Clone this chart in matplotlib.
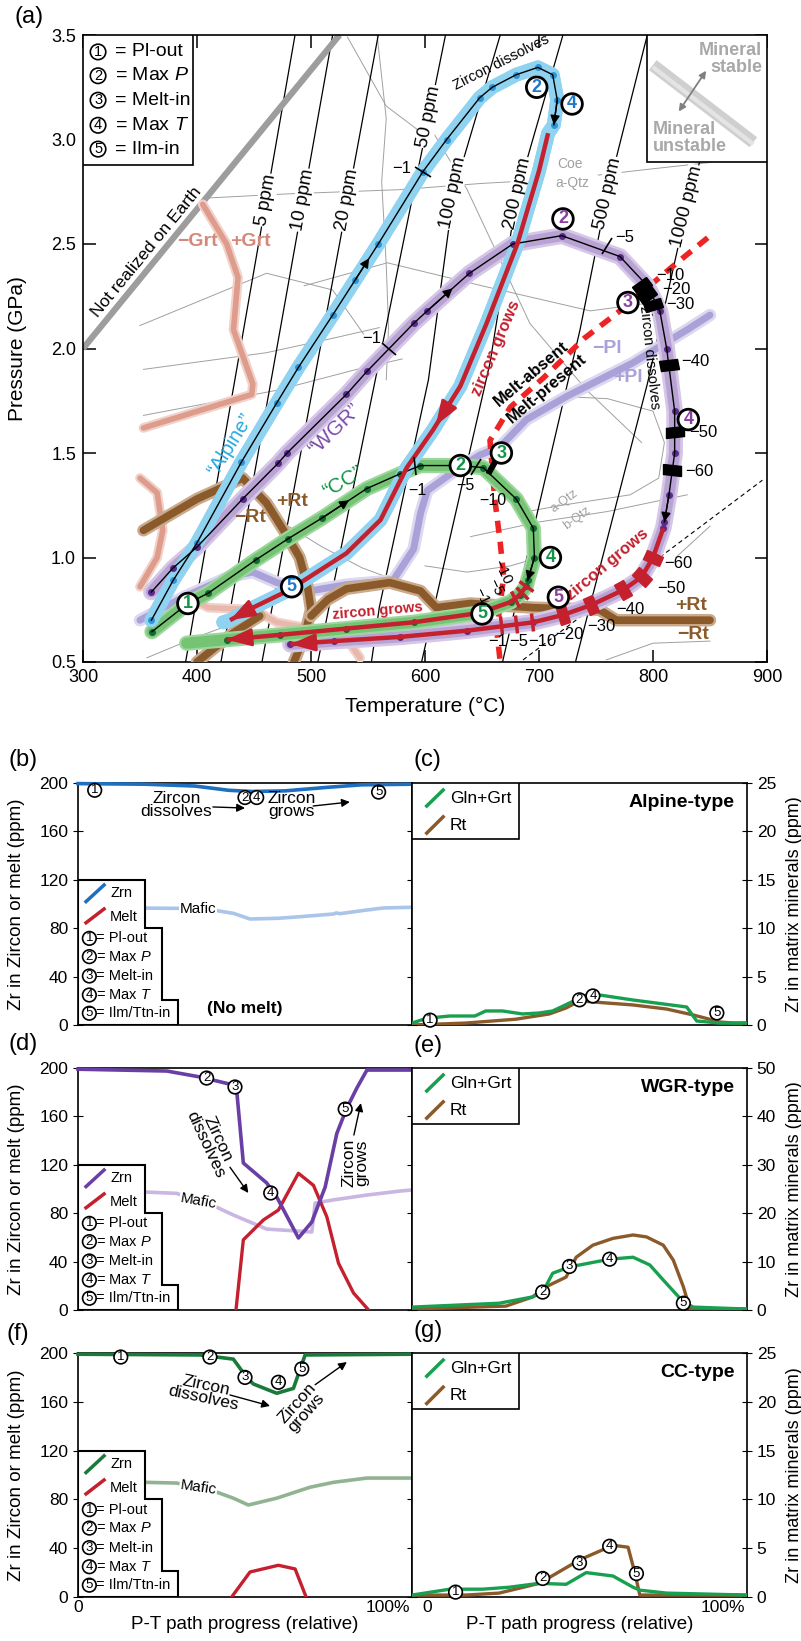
import numpy as np
import matplotlib.pyplot as plt
from matplotlib.markers import MarkerStyle
from matplotlib.transforms import Affine2D
from matplotlib.patches import Polygon, Rectangle
from matplotlib.ticker import FormatStrFormatter

plt.rcParams['font.family'] = ['Liberation Sans', 'DejaVu Sans']
plt.rcParams['mathtext.fontset'] = 'custom'
plt.rcParams['mathtext.rm'] = 'Liberation Sans'
plt.rcParams['mathtext.it'] = 'Liberation Sans:italic'
plt.rcParams['axes.linewidth'] = 1.2

RED = '#c4202e'
BLUE_BAND, BLUE_DOT, BLUE_TXT = '#8fd3f1', '#2f95d6', '#1f78c8'
PURP_BAND, PURP_DOT, PURP_TXT = '#b9a2d4', '#5a2a8a', '#8a3fa0'
GRN_BAND, GRN_DOT, GRN_TXT = '#74c474', '#0f6b32', '#13944a'
RT_COL, GRT_COL, PL_COL = '#8a5a2b', '#dd9c8c', '#a9a1d8'

# ---------------- (a) P-T diagram ----------------
# P-T paths (T in degC, P in GPa)
alpine_T = [360, 379, 400, 439, 470, 489, 519, 539, 559, 598, 619, 648, 659, 680, 699, 712, 716, 713]
alpine_P = [0.70, 0.89, 1.07, 1.457, 1.74, 1.91, 2.16, 2.33, 2.50, 2.845, 3.0, 3.2, 3.25, 3.31, 3.345, 3.31, 3.19, 3.07]
alpine_red_T = [708, 700, 681, 654, 631, 607, 584, 561, 531, 490, 483, 449, 429]
alpine_red_P = [3.03, 2.85, 2.50, 2.12, 1.82, 1.61, 1.43, 1.18, 1.02, 0.877, 0.85, 0.76, 0.70]
alpine_tail = ([423], [0.69])

wgr_T = [360, 379, 400, 440, 471, 479, 531, 549, 590, 602, 639, 677, 720, 771, 795, 806, 812, 819, 819, 814, 810]
wgr_P = [0.835, 0.95, 1.05, 1.28, 1.45, 1.50, 1.78, 1.89, 2.12, 2.18, 2.36, 2.50, 2.54, 2.44, 2.30, 2.18, 2.0, 1.70, 1.50, 1.30, 1.17]
wgr_red_T = [809, 800, 790, 774, 746, 721, 695, 637, 578, 520, 482]
wgr_red_P = [1.14, 1.0, 0.907, 0.845, 0.773, 0.725, 0.69, 0.65, 0.62, 0.60, 0.585]

cc_T = [360.5, 392, 410, 452, 480, 510, 549, 578, 596, 631, 651, 680, 695, 696, 690]
cc_P = [0.645, 0.78, 0.83, 0.99, 1.09, 1.19, 1.33, 1.40, 1.44, 1.44, 1.43, 1.28, 1.14, 1.0, 0.89]
cc_red_T = [689, 683, 675, 648, 590, 531, 473, 426]
cc_red_P = [0.865, 0.82, 0.787, 0.735, 0.69, 0.66, 0.63, 0.607]
cc_tail = ([391], [0.59])

# zircon saturation isopleths
iso_names = ['5 ppm', '10 ppm', '20 ppm', '50 ppm', '100 ppm', '200 ppm', '500 ppm', '1000 ppm']
iso_T = [[486, 390], [519, 421], [559, 457], [618, 506], [666, 625, 603, 560, 553],
         [721, 681, 657, 597], [795, 760, 736, 668], [872, 830, 795, 732]]
iso_P = [[3.5, 0.5], [3.5, 0.5], [3.5, 0.5], [3.5, 0.5], [3.5, 2.744, 1.85, 0.764, 0.5],
         [3.5, 2.744, 1.93, 0.5], [3.5, 2.744, 2.09, 0.5], [3.5, 2.68, 1.83, 0.5]]
iso_label_P = [2.71, 2.71, 2.71, 3.11, 2.744, 2.744, 2.744, 2.68]

# mineral-in/out boundaries
grt_a = ([405, 426, 436, 432, 449, 448, 353], [2.69, 2.50, 2.34, 2.09, 1.83, 1.78, 1.62])
grt_b = ([350, 365, 370, 365, 350], [1.38, 1.31, 1.13, 1.0, 0.86])
grt_c = ([395, 410, 450, 470, 500, 530, 543], [0.80, 0.76, 0.75, 0.69, 0.66, 0.62, 0.52])
rt_a = ([353, 400, 440, 461, 476, 490, 497, 500, 494, 485], [1.13, 1.28, 1.38, 1.26, 1.13, 1.0, 0.86, 0.75, 0.62, 0.5])
rt_b = ([500, 515, 531, 569, 596, 610, 640, 695, 753, 768, 850], [0.72, 0.80, 0.85, 0.88, 0.84, 0.76, 0.78, 0.76, 0.75, 0.70, 0.70])
rt_c = ([400, 432, 455], [0.5, 0.64, 0.72])
pl_T = [350, 388, 429, 449, 470, 499, 531, 572, 590, 596, 602, 625, 648, 666, 689, 724, 782, 830, 850]
pl_P = [0.70, 0.81, 0.91, 0.93, 0.88, 0.84, 0.87, 0.89, 1.04, 1.21, 1.32, 1.41, 1.49, 1.53, 1.66, 1.77, 1.93, 2.09, 2.16]
solidus_T = [848, 821, 771, 740, 704, 675, 657, 661, 666, 669, 663, 666]
solidus_P = [2.53, 2.41, 2.18, 2.05, 1.86, 1.72, 1.56, 1.29, 1.07, 0.91, 0.65, 0.5]
qtz_T, qtz_P = [686, 896], [0.51, 1.37]
earth_T, earth_P = [300, 525], [2.0, 3.5]

grid_lines = [
    ([409, 480, 578, 650, 700], [2.72, 2.74, 2.76, 2.79, 2.805]),
    ([752, 800, 850], [2.83, 2.86, 2.89]),
    ([350, 461, 519, 546], [2.11, 2.36, 2.28, 2.07]),
    ([353, 461, 520, 560], [1.90, 1.98, 2.05, 2.10]),
    ([353, 470, 540, 580], [1.68, 1.80, 1.90, 1.95]),
    ([558, 566, 562, 566, 568, 566], [3.5, 3.1, 2.8, 2.4, 2.1, 1.85]),
    ([532, 566, 600], [3.49, 3.16, 3.02]),
    ([494, 567, 650, 745, 800], [2.30, 2.41, 2.30, 2.18, 2.22]),
    ([600, 637, 692, 742, 790], [3.1, 2.76, 2.12, 1.80, 1.55]),
    ([722, 760, 800, 810, 805, 780, 720, 690], [1.77, 1.76, 1.70, 1.55, 1.38, 1.30, 1.25, 1.22]),
    ([640, 700, 760, 795, 830], [1.10, 1.17, 1.22, 1.26, 1.30]),
    ([759, 800, 850], [0.51, 0.59, 0.60]),
    ([480, 510, 545, 575], [1.15, 1.05, 0.95, 0.89]),
    ([600, 637, 675, 700], [0.96, 0.93, 0.96, 1.0]),
    ([356, 400, 440], [0.52, 0.62, 0.70]),
    ([820, 850], [1.00, 1.15]),
]

# circled stage numbers on the paths: (T, P, number)
alpine_marks = [(698, 3.25, 2), (729, 3.17, 4), (483, 0.86, 5)]
wgr_marks = [(721, 2.62, 2), (778, 2.22, 3), (831, 1.66, 4), (717, 0.81, 5)]
cc_marks = [(392, 0.78, 1), (631, 1.44, 2), (667, 1.50, 3), (710, 1.0, 4), (650, 0.73, 5)]

# % zircon dissolved / grown along WGR path
wgr_dis_T = [790, 795, 800, 814, 819, 817]
wgr_dis_P = [2.30, 2.255, 2.21, 1.92, 1.60, 1.42]
wgr_dis_lab = ['−10', '−20', '−30', '−40', '−50', '−60']
wgr_dis_lab_T = [803, 808, 812, 825, 832, 828]
wgr_dis_lab_P = [2.35, 2.28, 2.21, 1.94, 1.60, 1.41]
wgr_gro_T = [800, 790, 774, 746, 721]
wgr_gro_P = [1.0, 0.907, 0.845, 0.773, 0.725]
wgr_gro_lab = ['−60', '−50', '−40', '−30', '−20']
wgr_gro_lab_T = [810, 804, 768, 742, 714]
wgr_gro_lab_P = [0.97, 0.85, 0.75, 0.67, 0.63]

# ---------------- (b)-(g) Zr budgets ----------------
stage_names = ['= Pl-out', '= Max $P$', '= Melt-in', '= Max $T$', '= Ilm/Ttn-in']

b_x_zrn = [0, 0.2, 0.35, 0.45, 0.52, 0.62, 0.75, 0.85, 1.0]
b_zrn = [199.5, 199, 197.5, 194, 193, 193.5, 196.5, 198.5, 199]
b_x_maf = [0, 0.1, 0.2, 0.3, 0.415, 0.465, 0.515, 0.6, 0.664, 0.764, 0.774, 0.784, 0.864, 0.914, 1.0]
b_maf = [97, 96.8, 96.6, 96.4, 94.5, 92.3, 87.6, 88.2, 89.5, 91.7, 92.6, 92.0, 95.0, 96.7, 97.3]
b_marks = [(0.05, 194, 1), (0.50, 188, 2), (0.535, 188, 4), (0.90, 192.5, 5)]

c_x_gg = [0, 0.044, 0.113, 0.188, 0.22, 0.27, 0.33, 0.38, 0.42, 0.47, 0.50, 0.52, 0.56, 0.66, 0.82, 0.85, 0.92, 1.0]
c_gg = [0.2, 0.7, 0.93, 0.93, 1.45, 1.45, 1.14, 1.24, 1.45, 2.27, 2.79, 3.1, 3.1, 2.58, 1.86, 0.41, 0.2, 0.2]
c_x_rt = [0, 0.16, 0.31, 0.41, 0.46, 0.50, 0.54, 0.66, 0.76, 0.84, 0.92, 0.96, 1.0]
c_rt = [0, 0.2, 0.6, 1.14, 1.76, 2.5, 2.38, 2.07, 1.65, 1.03, 0.31, 0.2, 0.2]
c_marks = [(0.054, 0.5, 1), (0.50, 2.6, 2), (0.54, 3.0, 4), (0.91, 1.24, 5)]

d_x_zrn = [0, 0.266, 0.365, 0.465, 0.475, 0.495, 0.565, 0.595, 0.66, 0.70, 0.74, 0.775, 0.805, 0.835, 0.865, 1.0]
d_zrn = [199, 197.5, 192.6, 186, 181.8, 121.5, 105, 93.4, 59.5, 72.7, 101.6, 146, 167, 183.5, 198.3, 198.3]
d_x_melt = [0.473, 0.495, 0.555, 0.60, 0.66, 0.705, 0.745, 0.78, 0.825, 0.87]
d_melt = [0, 58, 74.4, 82.6, 113, 103, 77, 38.6, 14, 0]
d_x_maf = [0, 0.2, 0.295, 0.415, 0.465, 0.515, 0.565, 0.615, 0.70, 0.71, 0.765, 0.865, 0.964, 1.0]
d_maf = [98, 97.5, 96.4, 85, 78.5, 72.7, 66.9, 66, 64.5, 88.4, 91, 95, 98.3, 99.2]
d_marks = [(0.385, 191.7, 2), (0.47, 184.3, 3), (0.577, 96.7, 4), (0.80, 166, 5)]

e_x_gg = [0, 0.26, 0.36, 0.39, 0.42, 0.47, 0.59, 0.66, 0.71, 0.75, 0.81, 0.84, 1.0]
e_gg = [0.6, 1.4, 2.7, 3.7, 7.6, 8.9, 10.5, 10.9, 9.3, 6.2, 1.65, 0.6, 0.2]
e_x_rt = [0, 0.28, 0.36, 0.40, 0.46, 0.49, 0.54, 0.60, 0.66, 0.70, 0.75, 0.78, 0.81, 0.83, 1.0]
e_rt = [0.2, 0.8, 2.7, 4.8, 6.8, 10.9, 13.4, 14.8, 15.5, 15.1, 13.4, 10.3, 4.8, 0.2, 0.2]
e_marks = [(0.39, 3.7, 2), (0.47, 9.0, 3), (0.59, 10.5, 4), (0.81, 1.4, 5)]

f_x_zrn = [0, 0.365, 0.465, 0.505, 0.525, 0.595, 0.645, 0.68, 1.0]
f_zrn = [199, 198.4, 195, 180, 174.6, 167, 171, 198.4, 199]
f_x_melt = [0.46, 0.515, 0.60, 0.65, 0.683]
f_melt = [0, 20.5, 26, 23, 0]
f_x_maf = [0, 0.2, 0.295, 0.415, 0.465, 0.51, 0.595, 0.695, 0.765, 0.865, 1.0]
f_maf = [95, 94, 93.4, 86, 81, 75.4, 81, 90, 94, 97.5, 97.5]
f_marks = [(0.128, 196.7, 1), (0.395, 196.7, 2), (0.50, 180, 3), (0.60, 176, 4), (0.67, 187, 5)]

g_x_gg = [0, 0.113, 0.21, 0.29, 0.38, 0.46, 0.52, 0.60, 0.66, 0.68, 0.76, 1.0]
g_gg = [0.2, 0.8, 0.8, 1.0, 1.4, 1.3, 2.5, 2.15, 1.0, 0.7, 0.4, 0.2]
g_x_rt = [0, 0.16, 0.26, 0.38, 0.50, 0.60, 0.645, 0.665, 0.68, 1.0]
g_rt = [0.2, 0.2, 0.4, 1.4, 3.8, 5.3, 5.1, 2.5, 0.2, 0.2]
g_marks = [(0.13, 0.5, 1), (0.39, 1.9, 2), (0.50, 3.5, 3), (0.59, 5.2, 4), (0.67, 2.4, 5)]


def rect(x0, y0, x1, y1):
    return [x0 / 801, 1 - y1 / 1641, (x1 - x0) / 801, (y1 - y0) / 1641]


def circled(ax, x, y, n, color='black', fs=9, lw=1.2, weight='normal', pad=0.08, z=10, **kw):
    ax.text(x, y, str(n), ha='center', va='center', fontsize=fs, color=color, fontweight=weight,
            bbox=dict(boxstyle=f'circle,pad={pad}', fc='white', ec='black', lw=lw),
            zorder=z, clip_on=False, **kw)


def local_angle(ax, T, P, t0, p0):
    pts = ax.transData.transform(np.column_stack([T, P]))
    c = ax.transData.transform([t0, p0])
    i = int(np.argmin(np.hypot(pts[:, 0] - c[0], pts[:, 1] - c[1])))
    a, b = max(i - 1, 0), min(i + 1, len(T) - 1)
    d = pts[b] - pts[a]
    return np.degrees(np.arctan2(d[1], d[0]))


def bar(ax, T, P, t0, p0, color, ms=13, along=0.55, z=9):
    ang = local_angle(ax, T, P, t0, p0)
    m = MarkerStyle('s', transform=Affine2D().scale(along, 1.0).rotate_deg(ang))
    ax.plot(t0, p0, marker=m, ms=ms, color=color, mec=color, ls='none', zorder=z)


def tick(ax, T, P, t0, p0, color='black', ms=13, mew=1.2, z=9):
    ang = local_angle(ax, T, P, t0, p0)
    m = MarkerStyle('|', transform=Affine2D().rotate_deg(ang))
    ax.plot(t0, p0, marker=m, ms=ms, mec=color, mew=mew, ls='none', zorder=z)


def head(ax, T, P, i, color, frac=0.6, ms=14, style='-|>', lw=1.0, z=8):
    x0, y0 = T[i], P[i]
    x1 = x0 + frac * (T[i + 1] - x0)
    y1 = y0 + frac * (P[i + 1] - y0)
    ax.annotate('', xy=(x1, y1), xytext=(x0, y0), zorder=z,
                arrowprops=dict(arrowstyle=style, color=color, lw=lw, shrinkA=0, shrinkB=0,
                                mutation_scale=ms))


def band(ax, T, P, light, dark, wl, wd, z=3):
    ax.plot(T, P, color=light, lw=wl, solid_capstyle='round', solid_joinstyle='round', zorder=z)
    ax.plot(T, P, color=dark, lw=wd, solid_capstyle='round', solid_joinstyle='round', zorder=z)


fig = plt.figure(figsize=(8.01, 16.41), dpi=100)

ax = fig.add_axes(rect(83, 35, 767, 662))
ax.set_xlim(300, 900)
ax.set_ylim(0.5, 3.5)
ax.set_xticks(np.arange(300, 901, 100))
ax.set_yticks(np.arange(0.5, 3.51, 0.5))
ax.yaxis.set_major_formatter(FormatStrFormatter('%.1f'))
ax.tick_params(direction='in', top=True, right=True, length=9, width=1.1, labelsize=13, pad=5)
ax.set_xlabel('Temperature (°C)', fontsize=15)
ax.xaxis.set_label_coords(0.5, -0.056)
ax.set_ylabel('Pressure (GPa)', fontsize=15)
ax.yaxis.set_label_coords(-0.082, 0.5)

# phase-diagram field boundaries
for t, p in grid_lines:
    ax.plot(t, p, color='#a0a0a0', lw=0.7, zorder=1)
ax.plot(qtz_T, qtz_P, color='black', lw=0.8, ls=(0, (4, 3)), zorder=1)
ax.text(722, 1.27, 'a-Qtz', color='#a0a0a0', fontsize=9, rotation=36, ha='center', va='center')
ax.text(733, 1.19, 'b-Qtz', color='#a0a0a0', fontsize=9, rotation=36, ha='center', va='center')
ax.text(727, 2.885, 'Coe', color='#a0a0a0', fontsize=10, ha='center', va='center')
ax.text(729, 2.79, 'a-Qtz', color='#a0a0a0', fontsize=10, ha='center', va='center')

# isopleths
for name, t, p, lp in zip(iso_names, iso_T, iso_P, iso_label_P):
    ax.plot(t, p, color='black', lw=0.9, zorder=2)
    lt = np.interp(lp, p[::-1], t[::-1])
    ang = local_angle(ax, t, p, lt, lp)
    if ang < 0:
        ang += 180
    ax.text(lt, lp, name, rotation=ang, rotation_mode='anchor', ha='center', va='center',
            fontsize=13.5, zorder=2.5, bbox=dict(fc='white', ec='none', pad=0.6))

ax.plot(earth_T, earth_P, color='#9d9d9d', lw=4.5, solid_capstyle='butt', zorder=2)
ax.text(356, 2.46, 'Not realized on Earth', rotation=50.5, ha='center', va='center', fontsize=12.5)

band(ax, *grt_a, '#f1d2ca', GRT_COL, 7, 4)
band(ax, *grt_b, '#f1d2ca', GRT_COL, 7, 4)
band(ax, *grt_c, '#f1d2ca', '#e8b8ac', 7, 4)
band(ax, pl_T, pl_P, '#dcd8f0', PL_COL, 9, 5)
band(ax, *rt_a, '#c9aa8c', RT_COL, 9, 5.5)
band(ax, *rt_b, '#c9aa8c', RT_COL, 9, 5.5)
band(ax, *rt_c, '#c9aa8c', RT_COL, 9, 5.5)
ax.plot(solidus_T, solidus_P, color='#ee2424', lw=4, ls=(0, (2.2, 1.6)), zorder=4)

for txt, t, p, col in [('−Grt', 400, 2.51, '#d4877a'), ('+Grt', 446.5, 2.51, '#d4877a'),
                       ('−Rt', 446.5, 1.19, RT_COL), ('+Rt', 483, 1.27, RT_COL),
                       ('+Rt', 833, 0.77, RT_COL), ('−Rt', 835, 0.63, RT_COL),
                       ('−Pl', 760, 2.0, PL_COL), ('+Pl', 778, 1.86, PL_COL)]:
    ax.text(t, p, txt, color=col, fontsize=14, fontweight='bold', ha='center', va='center', zorder=11)
ax.text(693, 1.88, 'Melt-absent', rotation=40, fontsize=12, fontweight='bold', ha='center', va='center', zorder=11)
ax.text(707, 1.81, 'Melt-present', rotation=40, fontsize=12, fontweight='bold', ha='center', va='center', zorder=11)

# P-T path bands
alp_band_T = alpine_T + alpine_red_T + alpine_tail[0]
alp_band_P = alpine_P + alpine_red_P + alpine_tail[1]
wgr_band_T = wgr_T + wgr_red_T
wgr_band_P = wgr_P + wgr_red_P
cc_band_T = cc_T + cc_red_T + cc_tail[0]
cc_band_P = cc_P + cc_red_P + cc_tail[1]
band(ax, wgr_band_T, wgr_band_P, '#d5c7e6', PURP_BAND, 12, 8, z=5)
band(ax, cc_band_T, cc_band_P, '#9fd69f', GRN_BAND, 11, 8, z=5)
band(ax, alp_band_T, alp_band_P, BLUE_BAND, BLUE_BAND, 10, 10, z=5)

for t, p, c in [(alpine_T, alpine_P, BLUE_DOT), (wgr_T + wgr_red_T, wgr_P + wgr_red_P, PURP_DOT),
                (cc_T + cc_red_T, cc_P + cc_red_P, GRN_DOT)]:
    ax.plot(t, p, ls='none', marker='o', ms=4, color=c, zorder=6)

for t, p in [(alpine_T, alpine_P), (wgr_T, wgr_P), (cc_T, cc_P)]:
    ax.plot(t, p, color='black', lw=1.0, zorder=7)
head(ax, alpine_T, alpine_P, 7, 'black')
head(ax, alpine_T, alpine_P, len(alpine_T) - 2, 'black', frac=1.0)
head(ax, wgr_T, wgr_P, 9, 'black')
head(ax, wgr_T, wgr_P, len(wgr_T) - 2, 'black', frac=1.0)
head(ax, cc_T, cc_P, 5, 'black')
head(ax, cc_T, cc_P, len(cc_T) - 2, 'black', frac=1.0)

for t, p in [(alpine_red_T, alpine_red_P), (wgr_red_T, wgr_red_P), (cc_red_T, cc_red_P)]:
    ax.plot(t, p, color=RED, lw=3.2, solid_capstyle='butt', zorder=8)
    head(ax, t, p, len(t) - 2, RED, frac=1.0, ms=34, style='-|>,head_length=0.45,head_width=0.16', lw=2)
head(ax, alpine_red_T, alpine_red_P, 4, RED, frac=0.9, ms=34,
     style='-|>,head_length=0.45,head_width=0.16', lw=2)

# dissolution / growth markers
for t, p in zip(wgr_dis_T, wgr_dis_P):
    bar(ax, wgr_band_T, wgr_band_P, t, p, 'black')
for s, t, p in zip(wgr_dis_lab, wgr_dis_lab_T, wgr_dis_lab_P):
    ax.text(t, p, s, fontsize=12, ha='left', va='center', zorder=11)
for t, p in zip(wgr_gro_T, wgr_gro_P):
    bar(ax, wgr_red_T, wgr_red_P, t, p, RED)
for s, t, p in zip(wgr_gro_lab, wgr_gro_lab_T, wgr_gro_lab_P):
    ax.text(t, p, s, fontsize=12, ha='left', va='center', zorder=11)
tick(ax, alpine_T, alpine_P, 598, 2.845)
ax.text(571, 2.86, '−1', fontsize=12, ha='left', va='center', zorder=11)
tick(ax, wgr_T, wgr_P, 568, 2.0)
ax.text(545, 2.05, '−1', fontsize=12, ha='left', va='center', zorder=11)
tick(ax, wgr_T, wgr_P, 760, 2.49)
ax.text(767, 2.53, '−5', fontsize=12, ha='left', va='center', zorder=11)
tick(ax, cc_T, cc_P, 591, 1.44)
tick(ax, cc_T, cc_P, 645, 1.435)
bar(ax, cc_T, cc_P, 659, 1.44, 'black', ms=12, along=0.3)
for s, t, p in [('−1', 585, 1.32), ('−5', 627, 1.345), ('−10', 648, 1.275)]:
    ax.text(t, p, s, fontsize=11.5, ha='left', va='center', zorder=11)
for t, p in [(689, 0.865), (685, 0.83), (679, 0.80)]:
    tick(ax, cc_red_T, cc_red_P, t, p, color=RED, mew=2.5)
for s, t, p in [('−10', 668, 0.93), ('−5', 662, 0.86), ('−1', 650, 0.815)]:
    ax.text(t, p, s, fontsize=11, rotation=-65, ha='center', va='center', zorder=11)
for t, p in [(667, 0.675), (680, 0.683), (694, 0.69)]:
    tick(ax, wgr_red_T, wgr_red_P, t, p, color=RED, mew=2.5)
for s, t, p in [('−1', 664, 0.597), ('−5', 682, 0.597), ('−10', 703, 0.597)]:
    ax.text(t, p, s, fontsize=12, ha='center', va='center', zorder=11)

# path annotations
ax.text(662, 2.0, 'zircon grows', color=RED, fontsize=12, fontweight='bold', rotation=67,
        ha='center', va='center', zorder=11)
ax.text(558, 0.745, 'zircon grows', color=RED, fontsize=10.5, fontweight='bold', rotation=5,
        ha='center', va='center', zorder=11)
ax.text(760, 0.965, 'zircon grows', color=RED, fontsize=12, fontweight='bold', rotation=40,
        ha='center', va='center', zorder=11)
ax.text(667, 3.37, 'Zircon dissolves', fontsize=10.5, rotation=27, ha='center', va='center', zorder=11)
ax.text(797, 1.96, 'zircon dissolves', fontsize=10.5, rotation=-84, ha='center', va='center', zorder=11)
ax.text(429, 1.54, '“Alpine”', color='#29a9e0', fontsize=14.5, rotation=58, ha='center', va='center', zorder=11)
ax.text(521, 1.61, '“WGR”', color='#7b4aa8', fontsize=15, rotation=44, ha='center', va='center', zorder=11)
ax.text(528, 1.36, '“CC”', color=GRN_TXT, fontsize=15, rotation=31, ha='center', va='center', zorder=11)

for marks, col in [(alpine_marks, BLUE_TXT), (wgr_marks, PURP_TXT), (cc_marks, GRN_TXT)]:
    for t, p, n in marks:
        circled(ax, t, p, n, color=col, fs=13, lw=2.0, weight='bold', pad=0.1, z=12)

# stage legend
ax.add_patch(Rectangle((0, 0.793), 0.161, 0.207, transform=ax.transAxes, fc='white', ec='black',
                       lw=1.2, zorder=12))
for k, (name, yy) in enumerate(zip(stage_names, [0.973, 0.935, 0.896, 0.856, 0.818])):
    circled(ax, 0.022, yy, k + 1, fs=10.5, lw=1.2, pad=0.05, z=13, transform=ax.transAxes)
    lab = name.replace('Ilm/Ttn-in', 'Ilm-in')
    ax.text(0.047, yy, lab, fontsize=14, ha='left', va='center', transform=ax.transAxes, zorder=13)

# stability key
ax.add_patch(Rectangle((0.8246, 0.797), 0.1754, 0.203, transform=ax.transAxes, fc='white', ec='black',
                       lw=1.2, zorder=12))
ax.plot([0.833, 0.98], [0.952, 0.829], transform=ax.transAxes, color='#cfcfcf', lw=9,
        solid_capstyle='butt', zorder=13)
ax.plot([0.833, 0.98], [0.949, 0.826], transform=ax.transAxes, color='#e4e4e4', lw=3,
        solid_capstyle='butt', zorder=13)
ax.annotate('', xy=(0.911, 0.943), xytext=(0.871, 0.878), xycoords='axes fraction', zorder=14,
            arrowprops=dict(arrowstyle='<|-|>', color='#808080', lw=1.3, mutation_scale=10,
                            shrinkA=0, shrinkB=0))
ax.text(0.993, 0.962, 'Mineral\nstable', transform=ax.transAxes, ha='right', va='center',
        fontsize=13, fontweight='bold', color='#a8a8a8', linespacing=1.05, zorder=14)
ax.text(0.833, 0.836, 'Mineral\nunstable', transform=ax.transAxes, ha='left', va='center',
        fontsize=13, fontweight='bold', color='#a8a8a8', linespacing=1.05, zorder=14)

# ---------------- lower panels ----------------
stair_xy = [(0, 0), (0, 120), (0.2, 120), (0.2, 80), (0.25, 80), (0.25, 21), (0.30, 21), (0.30, 0)]


def zr_left(box, x_zrn, zrn, zcol, x_maf, maf, mcol, maf_lab, marks, x_melt=None, melt=None):
    a = fig.add_axes(rect(*box))
    a.set_xlim(0, 1)
    a.set_ylim(0, 200)
    a.set_yticks(range(0, 201, 40))
    a.tick_params(axis='y', direction='inout', length=7, left=True, right=True, labelsize=12.5)
    a.tick_params(axis='x', bottom=False, labelbottom=False)
    a.set_ylabel('Zr in Zircon or melt (ppm)', fontsize=13.5)
    a.yaxis.set_label_coords(-0.159, 0.5)
    a.plot(x_maf, maf, color=mcol, lw=2.6, zorder=2)
    mx, my, mrot = maf_lab
    a.text(mx, my, 'Mafic', fontsize=11, rotation=mrot, ha='center', va='center', zorder=3,
           bbox=dict(fc='white', ec='none', pad=0.5))
    if x_melt is not None:
        a.plot(x_melt, melt, color=RED, lw=2.4, zorder=3)
    a.plot(x_zrn, zrn, color=zcol, lw=2.6, zorder=3, clip_on=False)
    for x, y, n in marks:
        circled(a, x, y, n, fs=9.5, pad=0.06)
    # stepped legend
    a.add_patch(Polygon(stair_xy, closed=True, fc='white', ec='black', lw=1.5, zorder=5))
    a.plot([0.024, 0.078], [102, 115.7], color=zcol, lw=2.5, zorder=6)
    a.text(0.096, 108.8, 'Zrn', fontsize=10.5, va='center', zorder=6)
    a.plot([0.024, 0.078], [84.5, 95.9], color=RED, lw=2.5, zorder=6)
    a.text(0.096, 89.5, 'Melt', fontsize=10.5, va='center', zorder=6)
    for k, (name, yy) in enumerate(zip(stage_names, [71.6, 56.5, 40.5, 24.8, 9.7])):
        circled(a, 0.034, yy, k + 1, fs=9.5, pad=0.06, z=7)
        a.text(0.053, yy, name, fontsize=10.5, va='center', zorder=7)
    return a


def zr_right(box, x_gg, gg, x_rt, rt, ymax, title, marks):
    a = fig.add_axes(rect(*box))
    a.set_xlim(0, 1)
    a.set_ylim(0, ymax)
    a.set_yticks(np.arange(0, ymax + 0.1, ymax / 5))
    a.yaxis.set_major_formatter(FormatStrFormatter('%d'))
    a.yaxis.tick_right()
    a.tick_params(axis='y', direction='inout', length=7, left=False, right=True,
                  labelleft=False, labelright=True, labelsize=12.5)
    a.tick_params(axis='x', bottom=False, labelbottom=False)
    a.yaxis.set_label_position('right')
    a.set_ylabel('Zr in matrix minerals (ppm)', fontsize=13)
    a.yaxis.set_label_coords(1.115, 0.5)
    a.plot(x_rt, rt, color=RT_COL, lw=2.4, zorder=3)
    a.plot(x_gg, gg, color='#18a050', lw=2.4, zorder=3)
    for x, y, n in marks:
        circled(a, x, y, n, fs=9.5, pad=0.06)
    a.add_patch(Rectangle((0, 0.769), 0.32, 0.231, transform=a.transAxes, fc='white', ec='black',
                          lw=1.2, zorder=5))
    a.plot([0.044, 0.093], [0.905, 0.971], transform=a.transAxes, color='#18a050', lw=2.5, zorder=6)
    a.text(0.113, 0.938, 'Gln+Grt', transform=a.transAxes, fontsize=12.5, va='center', zorder=6)
    a.plot([0.044, 0.093], [0.793, 0.86], transform=a.transAxes, color=RT_COL, lw=2.5, zorder=6)
    a.text(0.113, 0.826, 'Rt', transform=a.transAxes, fontsize=12.5, va='center', zorder=6)
    a.text(0.964, 0.92, title, transform=a.transAxes, ha='right', va='center', fontsize=14,
           fontweight='bold')
    return a


def zircon_note(a, xy, rot, arrow_from, arrow_to, word):
    a.text(*xy, 'Zircon\n' + word, fontsize=12.5, rotation=rot, ha='center', va='center',
           linespacing=0.85, zorder=4)
    a.annotate('', xy=arrow_to, xytext=arrow_from, zorder=4,
               arrowprops=dict(arrowstyle='-|>', color='black', lw=1.0, mutation_scale=12,
                               shrinkA=0, shrinkB=0))


axb = zr_left((78, 783, 412, 1025), b_x_zrn, b_zrn, '#1f6fc0', b_x_maf, b_maf, '#a9c5ea',
              (0.36, 95.5, 0), b_marks)
zircon_note(axb, (0.295, 182), 0, (0.404, 180.2), (0.50, 179.3), 'dissolves')
zircon_note(axb, (0.64, 182), 0, (0.704, 181), (0.814, 184.3), 'grows')
axb.text(0.5, 14, '(No melt)', fontsize=12.5, fontweight='bold', ha='center', va='center')
axc = zr_right((412, 783, 747, 1025), c_x_gg, c_gg, c_x_rt, c_rt, 25, 'Alpine-type', c_marks)

axd = zr_left((78, 1068, 412, 1310), d_x_zrn, d_zrn, '#6a3fa5', d_x_maf, d_maf, '#c9b6e2',
              (0.36, 90, -10), d_marks, d_x_melt, d_melt)
zircon_note(axd, (0.40, 139), -65, (0.455, 118), (0.51, 96.7), 'dissolves')
zircon_note(axd, (0.83, 121.5), 90, (0.826, 144.6), (0.847, 171), 'grows')
axe = zr_right((412, 1068, 747, 1310), e_x_gg, e_gg, e_x_rt, e_rt, 50, 'WGR-type', e_marks)

axf = zr_left((78, 1353, 412, 1597), f_x_zrn, f_zrn, '#1a7a3a', f_x_maf, f_maf, '#92b392',
              (0.36, 89.3, -8), f_marks, f_x_melt, f_melt)
zircon_note(axf, (0.38, 168), -12, (0.455, 165.6), (0.575, 156.6), 'dissolves')
zircon_note(axf, (0.67, 155), 48, (0.71, 174), (0.805, 192.6), 'grows')
axg = zr_right((412, 1353, 747, 1597), g_x_gg, g_gg, g_x_rt, g_rt, 25, 'CC-type', g_marks)

for a, x0, ha0 in [(axf, 0.0, 'center'), (axg, 0.045, 'center')]:
    a.text(x0, -0.012, '0', transform=a.transAxes, ha=ha0, va='top', fontsize=12.5)
    a.text(0.994, -0.012, '100%', transform=a.transAxes, ha='right', va='top', fontsize=12.5)
    a.set_xlabel('P-T path progress (relative)', fontsize=13.5)
    a.xaxis.set_label_coords(0.5, -0.078)

for lab, x, y in [('(a)', 15, 6), ('(b)', 8, 749), ('(c)', 413, 749), ('(d)', 8, 1033),
                  ('(e)', 413, 1035), ('(f)', 7, 1323), ('(g)', 413, 1320)]:
    fig.text(x / 801, 1 - y / 1641, lab, fontsize=17, ha='left', va='top')

fig.savefig('out.png', dpi=100)
